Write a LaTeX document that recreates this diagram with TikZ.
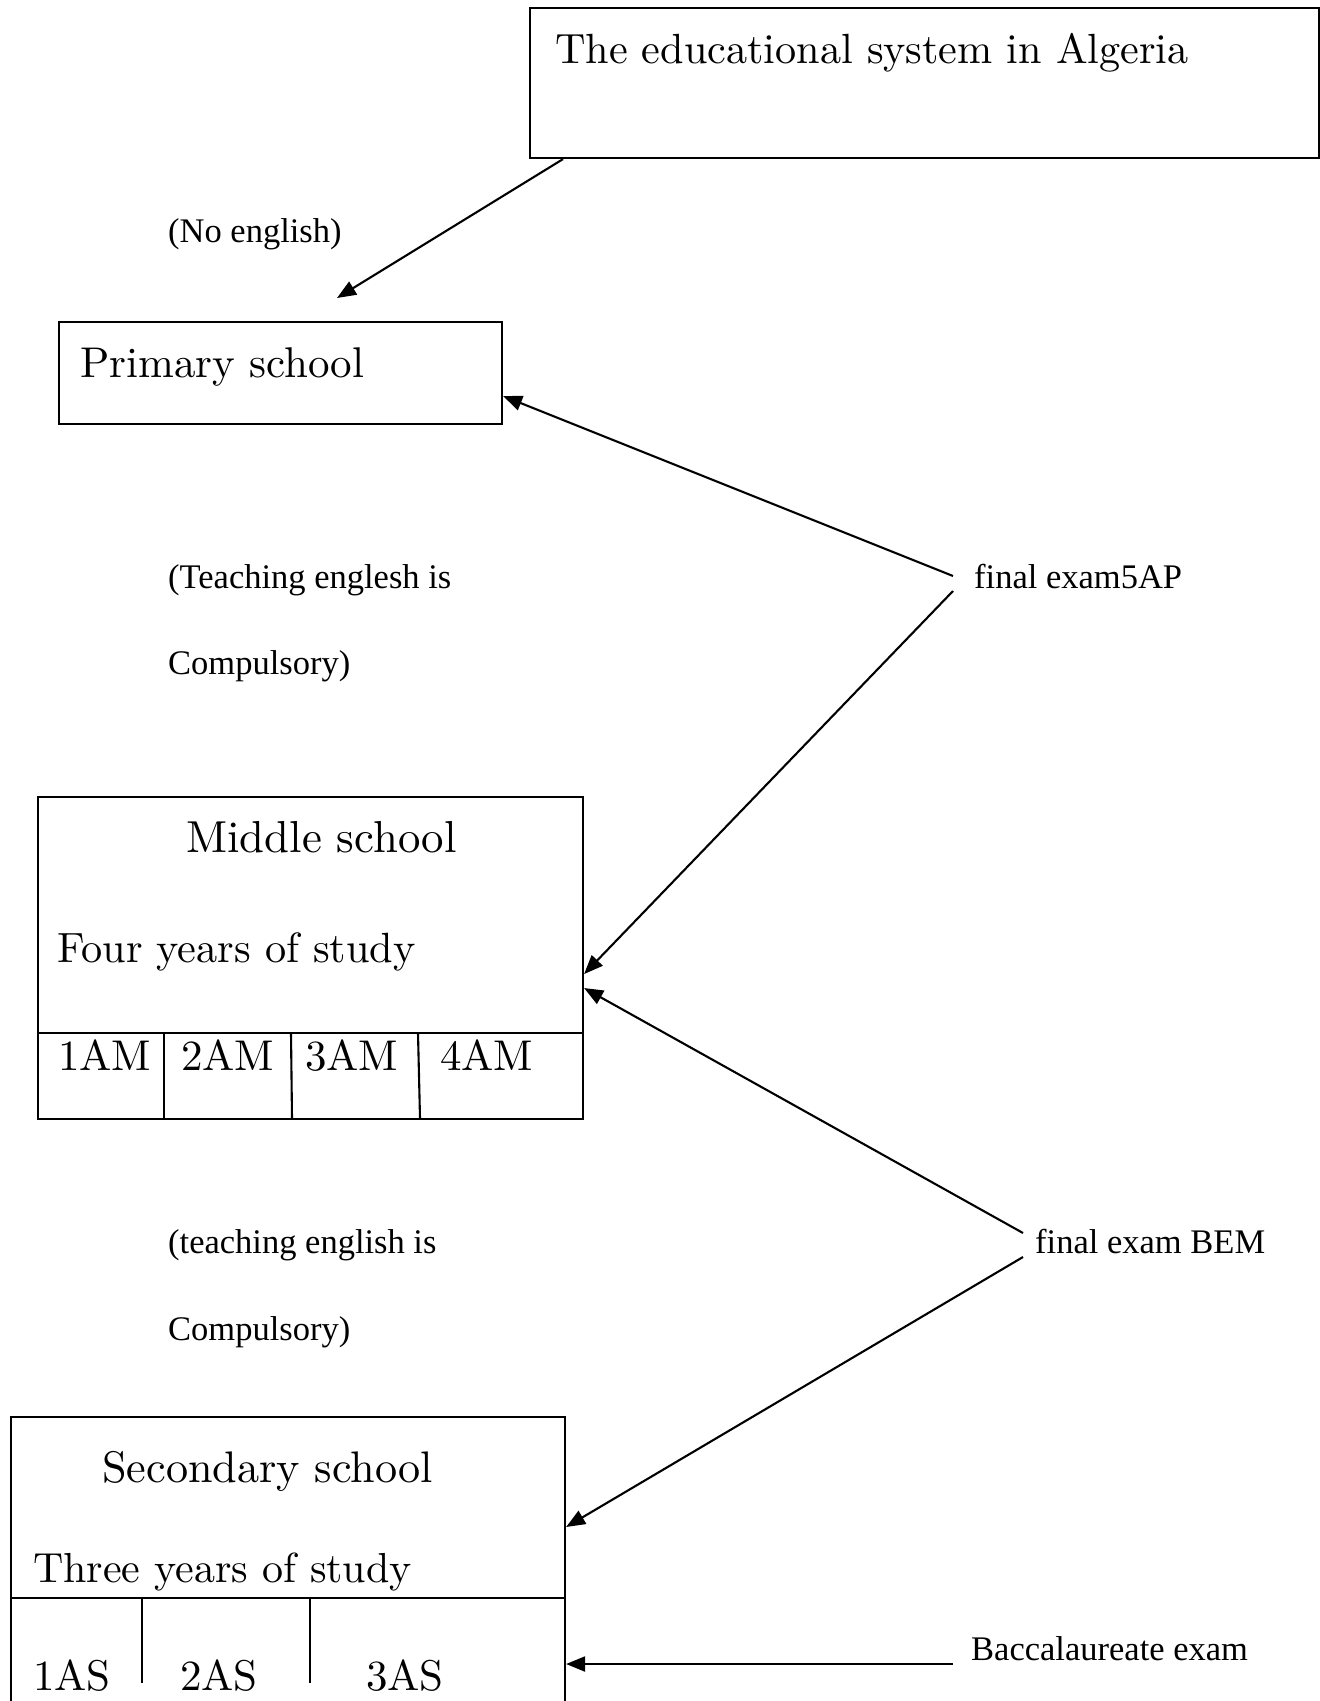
\documentclass[tikz,border=0pt]{standalone}
\usepackage{fontspec}
\newfontfamily\labfont{Liberation Serif}
\newfontfamily\bigfont{lmroman10-regular.otf}
\usetikzlibrary{arrows.meta}
\newcommand{\bigsz}[1]{\bigfont\fontsize{#1}{#1}\selectfont}
\begin{document}
\begin{tikzpicture}[x=1pt,y=-1pt,
  boxstyle/.style={draw,line width=2.1pt,inner sep=0,anchor=north west},
  bigtext/.style={inner sep=0,anchor=base west,font=\bigsz{43}},
  labtext/.style={inner sep=0,anchor=base west,font=\labfont\fontsize{34.5}{40}\selectfont},
  arr/.style={line width=2.1pt,-{Triangle[length=19pt,width=15pt]}},
  divline/.style={line width=2.1pt}]
\clip (0,0) rectangle (1320,1701);
\fill[white] (0,0) rectangle (1320,1701);

% boxes
\node[boxstyle,minimum width=789pt,minimum height=150pt] (top) at (529,7) {};
\node[boxstyle,minimum width=443pt,minimum height=102pt] (prim) at (58,321) {};
\node[boxstyle,minimum width=545pt,minimum height=322pt] (mid) at (37,796) {};
\node[boxstyle,minimum width=554pt,minimum height=320pt] (sec) at (10,1416) {};

% dividers middle school
\draw[divline] (37,1033) -- (582,1033);
\draw[divline] (164,1033) -- (164,1118);
\draw[divline] (291,1033) -- (292,1118);
\draw[divline] (418,1033) -- (420,1118);
% dividers secondary school
\draw[divline] (10,1598) -- (564,1598);
\draw[divline] (142,1598) -- (142,1683);
\draw[divline] (310,1598) -- (310,1683);

% box texts
\node[bigtext,font=\bigsz{42.2}] (ttl) at (555,63) {The educational system in Algeria};
\node[bigtext] (primt) at (80,377) {Primary school};
\node[bigtext,font=\bigsz{44.8}] (midt) at (186,852) {Middle school};
\node[bigtext,font=\bigsz{42.3}] (midy) at (57,962) {Four years of study};
\node[bigtext] (am1) at (58,1070) {1AM};
\node[bigtext] (am2) at (181,1070) {2AM};
\node[bigtext] (am3) at (305,1070) {3AM};
\node[bigtext] (am4) at (440,1070) {4AM};
\node[bigtext,font=\bigsz{44.2}] (sect) at (102,1482) {Secondary school};
\node[bigtext,font=\bigsz{42}] (secy) at (33,1582) {Three years of study};
\node[bigtext] (as1) at (33,1690) {1AS};
\node[bigtext] (as2) at (180,1690) {2AS};
\node[bigtext] (as3) at (366,1690) {3AS};

% labels
\node[labtext] (noeng) at (168,242) {(No english)};
\node[labtext] (teach1) at (168,588) {(Teaching englesh is};
\node[labtext] (comp1) at (168,674) {Compulsory)};
\node[labtext] (teach2) at (168,1253) {(teaching english is};
\node[labtext] (comp2) at (168,1340) {Compulsory)};
\node[labtext] (lab5ap) at (974,588) {final exam5AP};
\node[labtext] (labbem) at (1035,1253) {final exam BEM};
\node[labtext] (labbac) at (971,1660) {Baccalaureate exam};

% connectors
\coordinate (a1e) at ([xshift=279pt,yshift=23pt]prim.north west);
\draw[arr] ([xshift=34pt]top.south west) -- (a1e);
\draw[arr] ([xshift=-21pt,yshift=12pt]lab5ap.base west) -- ([yshift=-23pt]prim.east);
\draw[arr] ([xshift=-21pt,yshift=-3pt]lab5ap.base west) -- ([yshift=-16pt]mid.east);
\draw[arr] ([xshift=-12pt,yshift=20pt]labbem.base west) -- ([yshift=-30pt]mid.east);
\draw[arr] ([xshift=-12pt,yshift=-4pt]labbem.base west) -- ([yshift=-111pt]sec.north east);
\draw[arr] ([xshift=-18pt,yshift=-4pt]labbac.base west) -- ([yshift=-248pt]sec.north east);
\end{tikzpicture}
\end{document}
